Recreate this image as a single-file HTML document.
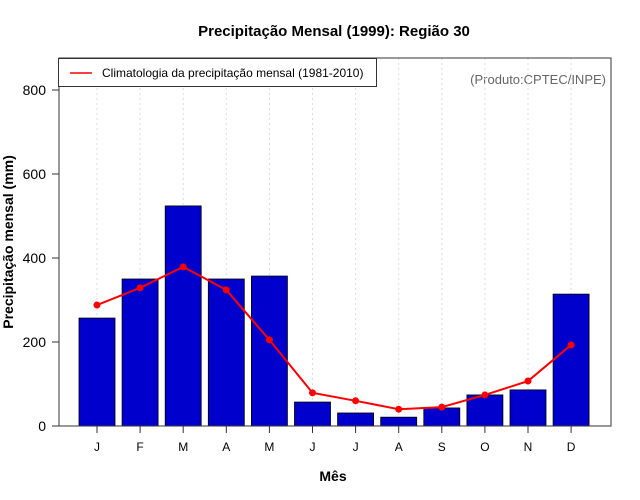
<!DOCTYPE html>
<html><head><meta charset="utf-8"><style>body{margin:0;background:#fff}svg{display:block;font-family:"Liberation Sans",sans-serif}</style></head>
<body>
<svg id="chart" width="640" height="500">
<text x="334" y="36" text-anchor="middle" font-size="15" font-weight="bold">Precipitação Mensal (1999): Região 30</text>
<text x="333" y="481" text-anchor="middle" font-size="14" font-weight="bold">Mês</text>
<text transform="translate(13,242) rotate(-90)" text-anchor="middle" font-size="14" font-weight="bold">Precipitação mensal (mm)</text>
<text x="606" y="84" text-anchor="end" font-size="13" fill="#666">(Produto:CPTEC/INPE)</text>
<g id="grid"></g><g id="bars"></g><g id="line"></g><g id="axes"></g>
<rect x="59" y="58" width="552" height="368" fill="none" stroke="#333" stroke-width="1"/>
<g>
<rect x="58.5" y="58.5" width="318" height="28" fill="#fff" stroke="#333"/>
<line x1="70" y1="73" x2="92" y2="73" stroke="red" stroke-width="1.5"/>
<text x="102" y="77" font-size="12">Climatologia da precipitação mensal (1981-2010)</text>
</g>
</svg>
<script>
const months=["J","F","M","A","M","J","J","A","S","O","N","D"];
const precip=[257,350,524,350,357,57,31,21,43,74,86,314];
const clim=[288,329,379,324,205,79,60,40,45,74,107,193];
const yTicks=[0,200,400,600,800];
const ns="http://www.w3.org/2000/svg";
const x=i=>97+i*43.1;
const y=v=>426-v*0.42;
function mk(t,a,p){const e=document.createElementNS(ns,t);for(const k in a)e.setAttribute(k,a[k]);p.appendChild(e);return e;}
const G=document.getElementById('grid'),B=document.getElementById('bars'),L=document.getElementById('line'),A=document.getElementById('axes');
months.forEach((m,i)=>{
 const g=mk('line',{x1:x(i),x2:x(i),y1:58,y2:426,stroke:'#ddd','stroke-dasharray':'2,3'},G);
 
 
 const r=mk('rect',{x:x(i)-18,y:y(precip[i]),width:36,height:precip[i]*0.42,fill:'#0000cd',stroke:'#000','stroke-width':0.8},B);
 
 
 const t=mk('line',{x1:x(i),x2:x(i),y1:426,y2:433,stroke:'#333'},A);
 
 
 const tl=mk('text',{x:x(i),y:451,'text-anchor':'middle','font-size':12},A);tl.textContent=m;
 
 
});
const pl=mk('polyline',{points:clim.map((v,i)=>x(i)+','+y(v)).join(' '),fill:'none',stroke:'red','stroke-width':2},L);


clim.forEach((v,i)=>{const c=mk('circle',{cx:x(i),cy:y(v),r:3.5,fill:'red'},L);
 
 });
yTicks.forEach(v=>{
 const t=mk('line',{x1:52,x2:59,y1:y(v),y2:y(v),stroke:'#333'},A);
 
 
 const tl=mk('text',{x:46,y:y(v)+5,'text-anchor':'end','font-size':14},A);tl.textContent=v;
 
 
});
</script>
</body></html>
